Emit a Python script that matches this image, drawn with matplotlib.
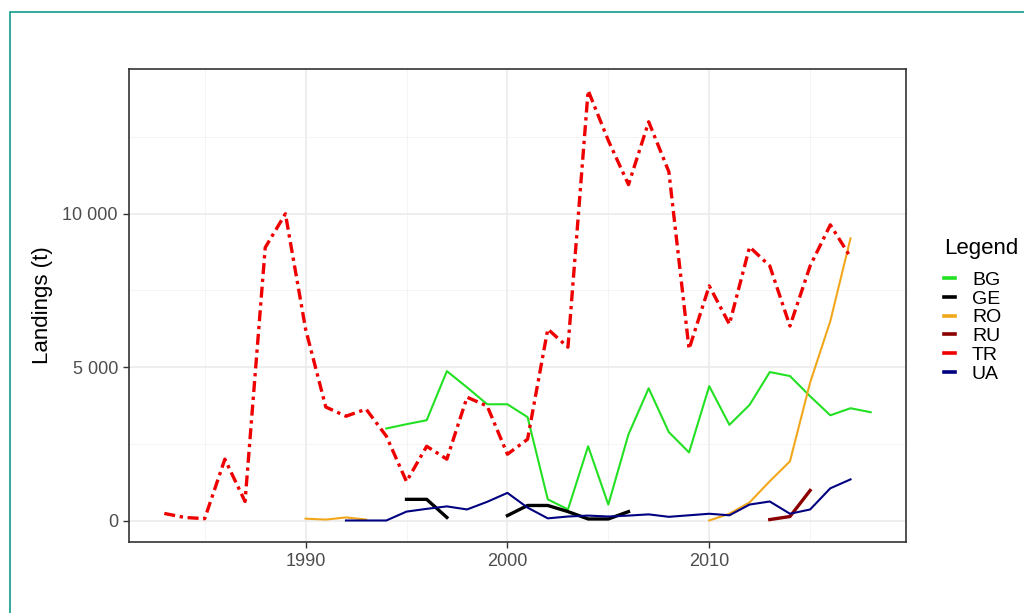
#!/usr/bin/env python3

import matplotlib
matplotlib.use('Agg')
import matplotlib.pyplot as plt
import matplotlib.ticker as mticker
from matplotlib.patches import Rectangle
import numpy as np

################################################################################
# landings per country (nan = no data)

nan = np.nan

years_bg = list(range(1994, 2019))
land_bg = [3000, 3140, 3270, 4870, 4340, 3790, 3790, 3370, 690, 360,
           2420, 520, 2810, 4310, 2880, 2220, 4380, 3120, 3770, 4840,
           4710, 4050, 3430, 3660, 3530]

years_ge = list(range(1995, 2007))
land_ge = [690, 690, 100, nan, nan, 160, 490, 490, 290, 50, 50, 290]

years_ro = list(range(1990, 2018))
land_ro = [60, 30, 100, 30] + [nan] * 16 + [0, 220, 590, 1280, 1930, 4500, 6500, 9200]

years_ru = [2013, 2014, 2015]
land_ru = [30, 130, 980]

years_tr = list(range(1983, 2018))
land_tr = [230, 100, 60, 2000, 620, 8900, 10000, 6240, 3700, 3400,
           3630, 2750, 1270, 2420, 2000, 4020, 3730, 2160, 2650, 6240,
           5650, 14020, 12390, 10950, 13000, 11370, 5590, 7650, 6400, 8920,
           8300, 6340, 8300, 9640, 8590]

years_ua = list(range(1992, 2018))
land_ua = [0, 0, 0, 290, 380, 460, 360, 610, 900, 420,
           70, 130, 160, 130, 160, 200, 120, 170, 220, 170,
           520, 620, 220, 360, 1050, 1340]

x_ticks = [1990, 2000, 2010]
y_ticks = [0, 5000, 10000]

################################################################################

def thousands(v, pos):
	'''Format tick values with a space as thousands separator.'''
	return f'{int(v):,}'.replace(',', ' ')

################################################################################

def main():

	plt.rcParams['font.family'] = ['Liberation Sans', 'DejaVu Sans']

	fig = plt.figure(figsize = (10.24, 6.13), dpi = 100)
	ax = fig.add_axes([129 / 1024, 1 - 542 / 613, (906 - 129) / 1024, (542 - 69) / 613])

	# teal frame around the whole picture
	fig.patches.append(Rectangle((10 / 1024, -0.1), 1.2, 1 - 12 / 613 + 0.1,
	                             transform = fig.transFigure, fill = False,
	                             edgecolor = '#119C8C', linewidth = 1.2))

	thin = 1.5
	thick = 2.4
	ax.plot(years_bg, land_bg, color = '#22E022', linewidth = thin, label = 'BG')
	ax.plot(years_ge, land_ge, color = 'black', linewidth = thick, label = 'GE')
	ax.plot(years_ro, land_ro, color = '#F2A71B', linewidth = thin, label = 'RO')
	ax.plot(years_ru, land_ru, color = '#8B0000', linewidth = thick, label = 'RU')
	ax.plot(years_tr, land_tr, color = '#EE0000', linewidth = thick,
	        linestyle = (0, (3.3, 1.4, 1.0, 1.4)), label = 'TR')
	ax.plot(years_ua, land_ua, color = '#000080', linewidth = thin, label = 'UA')

	# ggplot-like 5% expansion
	ax.set_xlim(1981.25, 2019.75)
	ax.set_ylim(-701, 14721)

	ax.set_xticks(x_ticks)
	ax.set_xticks([1985, 1995, 2005, 2015], minor = True)
	ax.set_yticks(y_ticks)
	ax.set_yticks([2500, 7500, 12500], minor = True)
	ax.yaxis.set_major_formatter(mticker.FuncFormatter(thousands))

	ax.grid(True, which = 'major', color = '#EBEBEB', linewidth = 1.2)
	ax.grid(True, which = 'minor', color = '#F2F2F2', linewidth = 0.6)
	ax.set_axisbelow(True)
	ax.tick_params(which = 'major', length = 4, width = 1, color = '#333333',
	               labelcolor = '#4D4D4D', labelsize = 13, pad = 4)
	ax.tick_params(which = 'minor', length = 0)
	for s in ax.spines.values():
		s.set_color('#333333')
		s.set_linewidth(1.2)

	ax.set_ylabel('Landings (t)', fontsize = 16, labelpad = 7)

	leg = ax.legend(loc = 'upper left', bbox_to_anchor = (936 / 1024, 1 - 230 / 613),
	                bbox_transform = fig.transFigure, frameon = False,
	                title = 'Legend', title_fontsize = 16, fontsize = 14,
	                handlelength = 0.6, handletextpad = 0.85, labelspacing = 0.06,
	                borderaxespad = 0)
	leg._legend_box.align = 'left'
	leg._legend_box.sep = 9
	for h in leg.get_lines():
		h.set_linestyle('-')
		h.set_linewidth(2.6)

	fig.savefig('out.png', dpi = 100)

################################################################################

if __name__ == '__main__':
	main()
